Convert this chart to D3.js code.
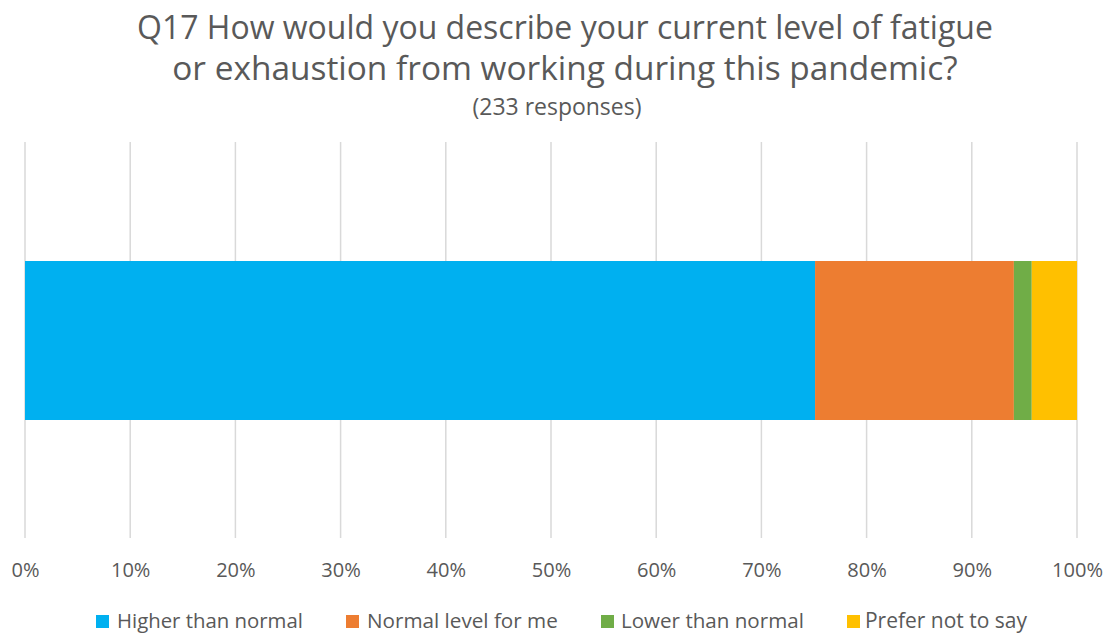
<!DOCTYPE html>
<html>
<head>
<meta charset="utf-8">
<script src="https://cdn.jsdelivr.net/npm/d3@7"></script>
<style>
  html, body { margin: 0; padding: 0; background: #fff; }
  text { font-family: "Open Sans", sans-serif; fill: #595959; }
</style>
</head>
<body>
<svg id="chart" width="1110" height="634"></svg>
<script>
const titleLines = ["Q17 How would you describe your current level of fatigue",
                    "or exhaustion from working during this pandemic?"];
const subtitle = "(233 responses)";
const categories = ["Q17"];
const seriesNames = ["Higher than normal", "Normal level for me", "Lower than normal", "Prefer not to say"];
const seriesValues = [0.751, 0.189, 0.017, 0.043];
const seriesColors = ["#00B0F0", "#ED7D31", "#70AD47", "#FFC000"];
const tickValues = [0, 0.1, 0.2, 0.3, 0.4, 0.5, 0.6, 0.7, 0.8, 0.9, 1.0];

const svg = d3.select("#chart");

// fit a text element's font size so its width matches a target width
function fit(sel, target, base) {
  sel.style("font-size", base + "px");
  const w = sel.node().getComputedTextLength();
  sel.style("font-size", (base * target / w) + "px");
}

// Title
fit(svg.append("text").attr("x", 565).attr("y", 39).attr("text-anchor", "middle").text(titleLines[0]), 856, 30);
fit(svg.append("text").attr("x", 565).attr("y", 80).attr("text-anchor", "middle").text(titleLines[1]), 786, 30);
fit(svg.append("text").attr("x", 557).attr("y", 115).attr("text-anchor", "middle").text(subtitle), 169, 18);

const x = d3.scaleLinear().domain([0, 1]).range([25, 1077]);

// Gridlines
svg.append("g").selectAll("line").data(tickValues).join("line")
  .attr("x1", d => x(d)).attr("x2", d => x(d))
  .attr("y1", 142).attr("y2", 538)
  .attr("stroke", "#d9d9d9").attr("stroke-width", 1.5);

// Stack
const row = {cat: categories[0]};
seriesNames.forEach((n, i) => row[n] = seriesValues[i]);
const stack = d3.stack().keys(seriesNames)([row]);

svg.append("g").selectAll("rect").data(stack).join("rect")
  .attr("x", d => x(d[0][0]))
  .attr("width", d => x(d[0][1]) - x(d[0][0]))
  .attr("y", 261).attr("height", 159)
  .attr("fill", (d, i) => seriesColors[i]);

// Axis
const axis = d3.axisBottom(x).tickValues(tickValues).tickFormat(d3.format(".0%")).tickSize(0).tickPadding(0);
const ag = svg.append("g").attr("transform", "translate(0,577)").call(axis);
ag.select(".domain").remove();
ag.selectAll("text").attr("dy", "0").style("fill", "#595959").style("font-family", "'Open Sans', sans-serif");
{
  const last = ag.selectAll("text").filter(d => d === 1);
  last.style("font-size", "19px");
  const w = last.node().getComputedTextLength();
  ag.selectAll("text").style("font-size", (19 * 51 / w) + "px");
}

// Legend
const markerX = [96, 346, 601, 847];
const textX = [117, 367, 621, 865];
const textW = [186, 191, 183, 162];
seriesNames.forEach((n, i) => {
  svg.append("rect").attr("x", markerX[i]).attr("y", 615).attr("width", 13).attr("height", 13)
    .attr("fill", seriesColors[i]);
  fit(svg.append("text").attr("x", textX[i]).attr("y", 628).text(n), textW[i], 19);
});
</script>
</body>
</html>
